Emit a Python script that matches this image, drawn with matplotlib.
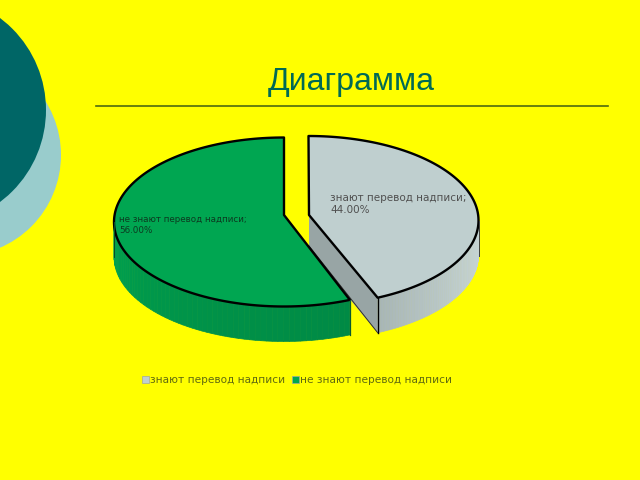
import numpy as np
import matplotlib
matplotlib.use('Agg')
import matplotlib.pyplot as plt
from matplotlib.patches import Circle, Polygon, Rectangle
from matplotlib.colors import to_rgb

# Data
title = 'Диаграмма'
categories = ['знают перевод надписи', 'не знают перевод надписи']
shares = [44.0, 56.0]

YELLOW = '#ffff00'
top_colors = ['#bfcfcf', '#00a651']
side_light = ['#c6d4d4', '#00a651']
side_dark = ['#a8b6b6', '#008a45']
cut_color = '#98a5a5'

depth = 35
semi_a = 170
semi_b = 84.5


def rim(cx, cy, deg):
    # deg counted from the top of the ellipse, clockwise
    t = np.radians(deg)
    return cx + semi_a * np.sin(t), cy - semi_b * np.cos(t)


def mix(c1, c2, f):
    a, b = np.array(to_rgb(c1)), np.array(to_rgb(c2))
    return tuple(a + (b - a) * f)


def draw_side(ax, cx, cy, d0, d1, light, dark, power=1.0):
    # outer wall, drawn as thin strips so it shades along the rim
    steps = np.linspace(d0, d1, 60)
    for i in range(len(steps) - 1):
        x0, y0 = rim(cx, cy, steps[i])
        x1, y1 = rim(cx, cy, steps[i + 1])
        f = min(1.0, (i / 58) ** power)
        ax.add_patch(Polygon([(x0, y0), (x1, y1), (x1, y1 + depth), (x0, y0 + depth)],
                             facecolor=mix(dark, light, f), edgecolor=mix(dark, light, f),
                             lw=0.5, zorder=2))


fig = plt.figure(figsize=(6.4, 4.8), dpi=100, facecolor=YELLOW)
ax = fig.add_axes([0, 0, 1, 1])
ax.set_xlim(0, 640)
ax.set_ylim(480, 0)
ax.axis('off')

# slide decoration
ax.add_patch(Circle((-40, 155), 101, facecolor='#99cccc', edgecolor='none', zorder=1))
ax.add_patch(Circle((-69, 110), 115, facecolor='#006666', edgecolor='none', zorder=1))
ax.text(351, 82, title, fontsize=23, family='Liberation Sans', color='#006a55',
        ha='center', va='center')
ax.plot([96, 608], [106, 106], color='#4d6a10', lw=1.2, zorder=1)

# first slice: runs clockwise from the top
sweep_gray = shares[0] / sum(shares) * 360 - 2.4
gx, gy = 308.5, 220.5
apex_g = (309, 215)
ex, ey = rim(gx, gy, sweep_gray)
ax.add_patch(Polygon([apex_g, (ex, ey), (ex, ey + depth), (apex_g[0], apex_g[1] + depth)],
                     facecolor=cut_color, edgecolor='none', zorder=2))
draw_side(ax, gx, gy, 90, sweep_gray, side_dark[0], side_light[0], power=1.6)
arc = [rim(gx, gy, d) for d in np.linspace(0, sweep_gray, 120)]
ax.add_patch(Polygon([apex_g] + arc, closed=True, facecolor=top_colors[0],
                     edgecolor='black', lw=1.7, joinstyle='round', zorder=3))
ax.plot([ex, ex], [ey, ey + depth], color='black', lw=1.0, zorder=3)
ax.plot([apex_g[0], ex], [apex_g[1] + depth - 4, ey + depth], color='#303030', lw=0.7, zorder=3)
ax.plot([gx + semi_a] * 2, [gy, gy + depth], color='#404040', lw=0.7, zorder=3)

# second slice: runs anticlockwise from the top
sweep_green = shares[1] / sum(shares) * 360 + 1.2
cx, cy = 284, 222
apex_v = (284, 215)
ex2, ey2 = rim(cx, cy, -sweep_green)
draw_side(ax, cx, cy, -90, -sweep_green, side_dark[1], side_light[1], power=0.6)
arc = [rim(cx, cy, -d) for d in np.linspace(0, sweep_green, 140)]
ax.add_patch(Polygon([apex_v] + arc, closed=True, facecolor=top_colors[1],
                     edgecolor='black', lw=1.7, joinstyle='round', zorder=3))
ax.plot([ex2, ex2], [ey2, ey2 + depth], color='#0a5a30', lw=0.9, zorder=3)
ax.plot([cx - semi_a] * 2, [cy, cy + depth], color='#0a4a28', lw=0.7, zorder=3)

# data labels
ax.text(330, 204, '%s;\n%.2f%%' % (categories[0], shares[0]), fontsize=7.5, color='#505050',
        va='center', ha='left', linespacing=1.15, zorder=4)
ax.text(119, 225, '%s;\n%.2f%%' % (categories[1], shares[1]), fontsize=6.3, color='#0c3a20',
        va='center', ha='left', linespacing=1.15, zorder=4)

# legend
for x0, c, lab in zip([142, 292], top_colors, categories):
    ax.add_patch(Rectangle((x0, 376), 7, 7, facecolor=c, edgecolor='#a0a8a0', lw=0.5, zorder=3))
    ax.text(x0 + 8.5, 380, lab, fontsize=7.6, color='#606a10', va='center', ha='left')

fig.savefig('out.png', dpi=100, facecolor=YELLOW)
